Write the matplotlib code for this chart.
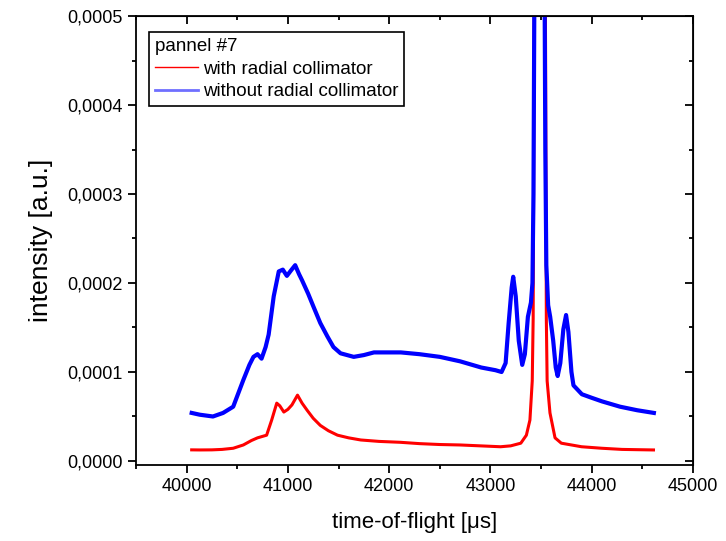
import numpy as np
import matplotlib
matplotlib.use("Agg")
import matplotlib.pyplot as plt
from matplotlib.lines import Line2D
from matplotlib.ticker import MultipleLocator, FuncFormatter

plt.rcParams['font.family'] = ['Liberation Sans', 'DejaVu Sans']

# time-of-flight (us) and intensity (a.u.), panel #7
tof_with = [40050, 40130, 40250, 40350, 40460, 40560, 40640, 40700, 40790, 40840,
            40890, 40920, 40960, 41000, 41040, 41095, 41140, 41190, 41250, 41320,
            41400, 41490, 41600, 41720, 41900, 42110, 42300, 42500, 42700, 42900,
            43100, 43200, 43300, 43355, 43390, 43413, 43422, 43432, 43445, 43480,
            43530, 43545, 43552, 43560, 43588, 43638, 43700, 43800, 43900, 44100,
            44300, 44450, 44610]
int_with = [1.25e-5, 1.24e-5, 1.25e-5, 1.3e-5, 1.43e-5, 1.8e-5, 2.3e-5, 2.6e-5, 2.9e-5, 4.6e-5,
            6.5e-5, 6.2e-5, 5.5e-5, 5.8e-5, 6.3e-5, 7.4e-5, 6.5e-5, 5.7e-5, 4.8e-5, 4.0e-5,
            3.4e-5, 2.9e-5, 2.6e-5, 2.36e-5, 2.2e-5, 2.1e-5, 1.95e-5, 1.85e-5, 1.8e-5, 1.7e-5,
            1.6e-5, 1.7e-5, 2.0e-5, 2.9e-5, 4.6e-5, 9.0e-5, 1.6e-4, 5.0e-4, 8.0e-4, 1.2e-3,
            8.0e-4, 4.5e-4, 1.6e-4, 9.0e-5, 5.4e-5, 2.6e-5, 2.0e-5, 1.8e-5, 1.6e-5, 1.43e-5,
            1.3e-5, 1.27e-5, 1.24e-5]

tof_without = [40050, 40130, 40260, 40360, 40460, 40560, 40620, 40660, 40700, 40740,
               40780, 40810, 40860, 40910, 40950, 40990, 41030, 41072, 41110, 41140,
               41200, 41254, 41320, 41390, 41450, 41520, 41650, 41750, 41850, 42000,
               42115, 42300, 42500, 42700, 42910, 43050, 43110, 43150, 43180, 43210,
               43225, 43250, 43280, 43314, 43340, 43370, 43400, 43415, 43425, 43435,
               43470, 43532, 43542, 43552, 43570, 43590, 43620, 43645, 43664, 43690,
               43720, 43747, 43770, 43800, 43820, 43903, 44000, 44101, 44280, 44450,
               44614]
int_without = [5.4e-5, 5.2e-5, 5.0e-5, 5.4e-5, 6.1e-5, 9.1e-5, 1.08e-4, 1.17e-4, 1.2e-4, 1.15e-4,
               1.28e-4, 1.42e-4, 1.85e-4, 2.13e-4, 2.15e-4, 2.08e-4, 2.14e-4, 2.2e-4, 2.1e-4, 2.03e-4,
               1.88e-4, 1.73e-4, 1.55e-4, 1.4e-4, 1.28e-4, 1.21e-4, 1.17e-4, 1.19e-4, 1.22e-4, 1.22e-4,
               1.22e-4, 1.2e-4, 1.17e-4, 1.12e-4, 1.05e-4, 1.02e-4, 1.0e-4, 1.1e-4, 1.55e-4, 1.95e-4,
               2.07e-4, 1.85e-4, 1.35e-4, 1.08e-4, 1.2e-4, 1.62e-4, 1.78e-4, 2.0e-4, 3.0e-4, 5.5e-4,
               1.1e-3, 6.0e-4, 3.5e-4, 2.2e-4, 1.75e-4, 1.62e-4, 1.35e-4, 1.05e-4, 0.955e-4, 1.1e-4,
               1.48e-4, 1.64e-4, 1.45e-4, 1.0e-4, 0.85e-4, 7.5e-5, 7.1e-5, 6.7e-5, 6.1e-5, 5.7e-5,
               5.4e-5]

fig = plt.figure(figsize=(7.26, 5.41), dpi=100)
ax = fig.add_axes([0.1873, 0.1405, 0.7672, 0.8299])

ax.plot(tof_with, int_with, color='#ff0000', lw=2.2, solid_joinstyle='round')
ax.plot(tof_without, int_without, color='#0000ff', lw=3.0, solid_joinstyle='round')

ax.set_xlim(39500, 45000)
ax.set_ylim(-0.0000045, 0.0005)

ax.xaxis.set_major_locator(MultipleLocator(1000))
ax.xaxis.set_minor_locator(MultipleLocator(500))
ax.yaxis.set_major_locator(MultipleLocator(0.0001))
ax.yaxis.set_minor_locator(MultipleLocator(0.00005))
ax.yaxis.set_major_formatter(FuncFormatter(lambda v, p: f"{v:.4f}".replace('.', ',')))

for s in ax.spines.values():
    s.set_linewidth(1.3)
ax.tick_params(which='both', direction='out', width=1.3, labelsize=13)
ax.tick_params(which='major', length=6)
ax.tick_params(which='minor', length=3)
# inward ticks on top/right without labels
ax2 = ax.secondary_xaxis('top')
ax2.xaxis.set_major_locator(MultipleLocator(1000))
ax2.xaxis.set_minor_locator(MultipleLocator(500))
ax2.tick_params(which='both', direction='in', width=1.3, labeltop=False)
ax2.tick_params(which='major', length=6)
ax2.tick_params(which='minor', length=3)
ay2 = ax.secondary_yaxis('right')
ay2.yaxis.set_major_locator(MultipleLocator(0.0001))
ay2.yaxis.set_minor_locator(MultipleLocator(0.00005))
ay2.tick_params(which='both', direction='in', width=1.3, labelright=False)
ay2.tick_params(which='major', length=6)
ay2.tick_params(which='minor', length=3)

ax.set_xlabel('time-of-flight [\u03bcs]', fontsize=16, labelpad=12)
ax.set_ylabel('intensity [a.u.]', fontsize=19, labelpad=10)

handles = [Line2D([], [], color='#ff0000', lw=1.0),
           Line2D([], [], color='#6f6fff', lw=2.0)]
leg = ax.legend(handles, ['with radial collimator', 'without radial collimator'],
                title='pannel #7', loc='upper left', bbox_to_anchor=(0.0233, 0.964),
                borderaxespad=0, fontsize=13.5, title_fontsize=13.5, alignment='left',
                frameon=True, fancybox=False, edgecolor='black', framealpha=1,
                handlelength=2.3, handletextpad=0.3, borderpad=0.3, labelspacing=0.3)
leg.get_frame().set_linewidth(1.2)

fig.savefig('out.png', dpi=100)
